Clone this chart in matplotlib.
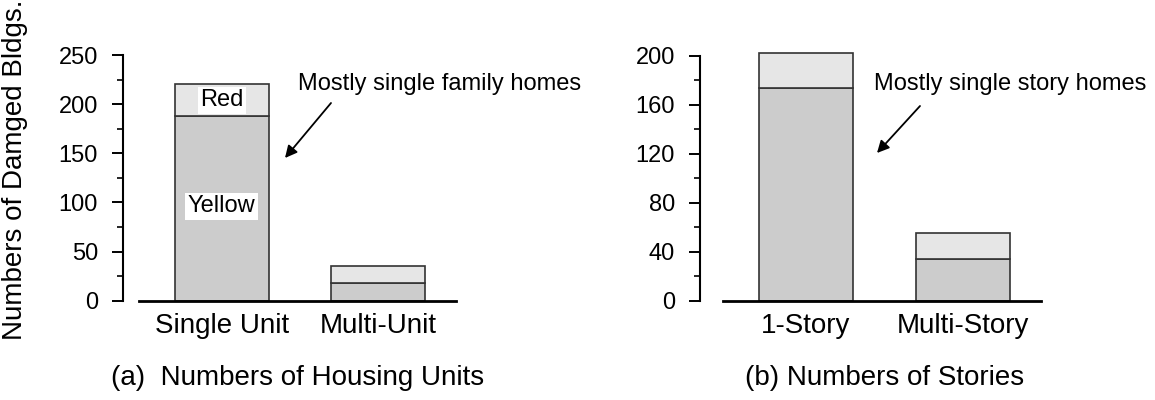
import matplotlib
matplotlib.use("Agg")
import matplotlib.pyplot as plt
from matplotlib.ticker import MultipleLocator

plt.rcParams['font.family'] = ['Liberation Sans', 'DejaVu Sans']
plt.rcParams['font.size'] = 17

# Damaged buildings by housing type (a) and by number of stories (b)
units_labels = ["Single Unit", "Multi-Unit"]
units_yellow = [188, 18]
units_red = [32, 17]

story_labels = ["1-Story", "Multi-Story"]
story_yellow = [174, 34]
story_red = [28, 21]

YELLOW_C = "#cccccc"
RED_C = "#e6e6e6"
EDGE_C = "#333333"
BIG = 20

W, H = 1155, 400
fig = plt.figure(figsize=(W / 100, H / 100), dpi=100)

def px_axes(x0, x1, ytop, ybot):
    return fig.add_axes([x0 / W, 1 - ybot / H, (x1 - x0) / W, (ybot - ytop) / H])

def fig_pt(x, y):
    return (x / W, 1 - y / H)

ax1 = px_axes(139, 456, 55, 300.7)
ax2 = px_axes(723, 1041, 55.7, 300.7)

def stacked(ax, labels, yellow, red, ymax, major, offset_pt):
    x = range(len(labels))
    ax.bar(x, yellow, width=0.6, color=YELLOW_C, edgecolor=EDGE_C, linewidth=1.2, clip_on=False)
    ax.bar(x, red, width=0.6, bottom=yellow, color=RED_C, edgecolor=EDGE_C, linewidth=1.2,
           clip_on=False)
    ax.set_xlim(-0.53, 1.5)
    ax.set_ylim(0, ymax)
    ax.set_xticks(list(x))
    ax.set_xticklabels(labels, fontsize=BIG)
    ax.tick_params(axis='x', length=0, pad=9)
    ax.yaxis.set_major_locator(MultipleLocator(major))
    ax.yaxis.set_minor_locator(MultipleLocator(major / 2))
    ax.tick_params(axis='y', which='major', length=8, width=1.4, pad=10)
    ax.tick_params(axis='y', which='minor', length=4, width=1.2)
    ax.spines['top'].set_visible(False)
    ax.spines['right'].set_visible(False)
    ax.spines['left'].set_position(('outward', offset_pt))
    ax.spines['left'].set_linewidth(1.5)
    ax.spines['bottom'].set_linewidth(2.0)

stacked(ax1, units_labels, units_yellow, units_red, 250, 50, 11.5)
stacked(ax2, story_labels, story_yellow, story_red, 200, 40, 16.5)

# in-bar legend labels
ax1.text(0, 204, "Red", ha='center', va='center',
         bbox=dict(boxstyle="square,pad=0.1", facecolor="white", edgecolor="none"))
ax1.text(0, 96, "Yellow", ha='center', va='center',
         bbox=dict(boxstyle="square,pad=0.12", facecolor="white", edgecolor="none"))

# callouts
arrow = dict(arrowstyle='-|>', color='black', lw=1.3, mutation_scale=18, shrinkA=0, shrinkB=0)
fig.text(440 / W, 1 - 84 / H, "Mostly single family homes", ha='center', va='center')
ax1.annotate("", xy=fig_pt(285, 158), xycoords='figure fraction',
             xytext=fig_pt(331, 103), textcoords='figure fraction',
             arrowprops=arrow, annotation_clip=False)
fig.text(1010 / W, 1 - 84 / H, "Mostly single story homes", ha='center', va='center')
ax2.annotate("", xy=fig_pt(877, 153), xycoords='figure fraction',
             xytext=fig_pt(920, 106), textcoords='figure fraction',
             arrowprops=arrow, annotation_clip=False)

fig.text(15 / W, 1 - 170 / H, "Numbers of Damged Bldgs.", rotation=90,
         ha='center', va='center', fontsize=BIG)
fig.text(297.5 / W, 1 - 385 / H, "(a)  Numbers of Housing Units", ha='center',
         va='baseline', fontsize=BIG)
fig.text(885 / W, 1 - 385 / H, "(b) Numbers of Stories", ha='center',
         va='baseline', fontsize=BIG)

fig.savefig("out.png", dpi=100)
